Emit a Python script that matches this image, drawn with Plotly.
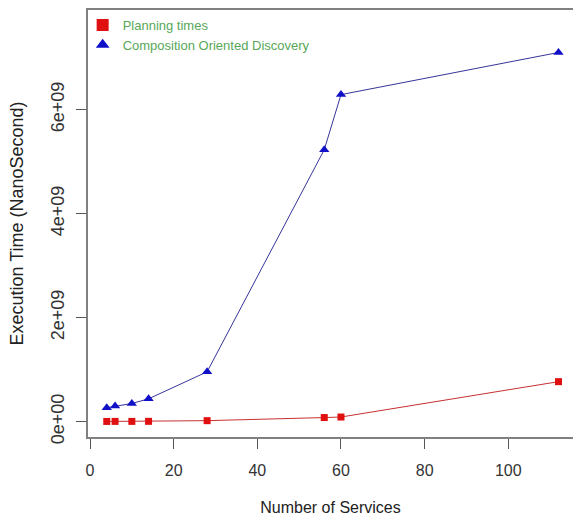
import plotly.graph_objects as go

services = [4, 6, 10, 14, 28, 56, 60, 112]
planning_times = [0.005e9, 0.006e9, 0.006e9, 0.007e9, 0.02e9, 0.08e9, 0.09e9, 0.77e9]
composition_discovery = [0.27e9, 0.30e9, 0.35e9, 0.44e9, 0.96e9, 5.23e9, 6.29e9, 7.10e9]

x_ticks = [0, 20, 40, 60, 80, 100]
y_ticks = [0, 2e9, 4e9, 6e9]
y_tick_labels = ["0e+00", "2e+09", "4e+09", "6e+09"]

font_family = "Liberation Sans, Arial, sans-serif"

series = [
    ("Planning times", planning_times, "#c83030", "square", 7, "#e01010"),
    ("Composition Oriented Discovery", composition_discovery, "#35359a", "triangle-up", 9, "#1010c8"),
]

fig = go.Figure()
for name, values, line_color, symbol, size, marker_color in series:
    fig.add_trace(go.Scatter(
        x=services, y=values, mode="lines", showlegend=False,
        line=dict(color=line_color, width=1), hoverinfo="skip",
    ))
    fig.add_trace(go.Scatter(
        x=services, y=values, mode="markers", name=name,
        marker=dict(symbol=symbol, size=size, color=marker_color),
    ))

fig.update_layout(
    width=573, height=518,
    margin=dict(l=88, r=0, t=10, b=81),
    paper_bgcolor="white", plot_bgcolor="white",
    font=dict(family=font_family, color="#222"),
    showlegend=True,
    legend=dict(
        x=-0.011, y=1.0, xanchor="left", yanchor="top",
        bgcolor="rgba(0,0,0,0)", borderwidth=0,
        font=dict(size=13, color="#58a858", family=font_family),
        itemsizing="constant", tracegroupgap=0,
    ),
)
fig.update_xaxes(
    range=[-0.48, 115.47], tickvals=x_ticks, automargin=False,
    showgrid=False, zeroline=False,
    showline=True, mirror=True, linecolor="#808080", linewidth=1.5,
    ticks="outside", ticklen=10, tickcolor="#555", tickwidth=1,
    ticklabelstandoff=8,
    tickfont=dict(size=16, color="#333"),
    title=dict(text="Number of Services", font=dict(size=16, color="#222"), standoff=24),
)
fig.update_yaxes(
    range=[-0.294e9, 7.917e9], tickvals=y_ticks, ticktext=y_tick_labels,
    tickangle=-90, automargin=False,
    showgrid=False, zeroline=False,
    showline=True, mirror=True, linecolor="#808080", linewidth=1.5,
    ticks="outside", ticklen=10, tickcolor="#555", tickwidth=1,
    ticklabelstandoff=5,
    tickfont=dict(size=18, color="#333"),
    title=dict(text="Execution Time (NanoSecond)", font=dict(size=18, color="#222"), standoff=20),
)

fig.write_html(
    "out.html",
    config={"displayModeBar": False},
    post_script="document.body.style.margin='0px';",
)
